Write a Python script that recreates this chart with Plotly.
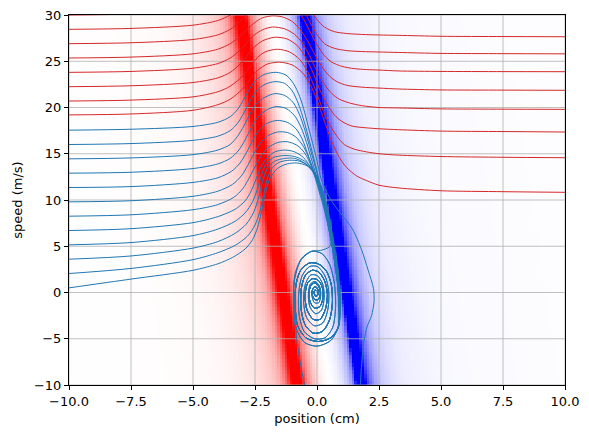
import numpy as np
import plotly.graph_objects as go

# background field: profile read across the bands along the v = 0 row
band_pos = [-14, -8, -6, -5, -4.5, -4, -3.5, -3.0, -2.6, -2.3, -2.05, -1.9, -1.75, -1.62,
            -1.55, -1.2, -1.1, -1.0, -0.85, -0.65, -0.45, -0.25, -0.05, 0.1, 0.3, 0.5,
            0.7, 0.85, 0.95, 1.02, 1.38, 1.47, 1.6, 1.8, 2.1, 2.5, 3.0, 4.0, 5.0, 7.0,
            10.0, 14.0]
band_val = [0, 0.005, 0.012, 0.02, 0.03, 0.045, 0.07, 0.11, 0.16, 0.22, 0.32, 0.45, 0.65, 0.9,
            1.0, 1.0, 0.8, 0.55, 0.38, 0.22, 0.1, 0.03, 0.0, -0.02, -0.06, -0.13,
            -0.25, -0.4, -0.65, -1.0, -1.0, -0.75, -0.55, -0.35, -0.2, -0.12, -0.07, -0.04, -0.025, -0.015,
            -0.008, -0.004]
band_tilt = 0.057  # cm of shift per m/s

x_ticks = [-10, -7.5, -5, -2.5, 0, 2.5, 5, 7.5, 10]
v_ticks = [-10, -5, 0, 5, 10, 15, 20, 25, 30]

# trajectories that pass through (red)
R0_X = [-10, -7.5, -5, -4, -3.5, -3.0, -2.7, -2.4, -2.0, -1.5, -1.0, -0.6, -0.3, 0.0, 0.3, 0.6, 0.9, 1.2, 1.6, 2.0, 2.5, 3.3, 5, 7.5, 10]
R0_V = [19.2, 19.3, 19.7, 20.3, 20.9, 22.0, 23.1, 24.0, 24.7, 24.9, 24.6, 23.8, 22.6, 20.8, 18.5, 16.3, 14.6, 13.5, 12.6, 12.1, 11.6, 11.3, 11.0, 10.9, 10.83]
R1_X = [-10, -7.5, -5, -4, -3.5, -3.0, -2.7, -2.4, -2.1, -1.6, -1.1, -0.7, -0.4, -0.1, 0.2, 0.5, 0.8, 1.1, 1.5, 2.0, 2.5, 3.3, 5, 7.5, 10]
R1_V = [20.7, 20.8, 21.15, 21.7, 22.3, 23.4, 24.4, 25.4, 26.0, 26.3, 26.0, 25.2, 24.0, 22.2, 20.0, 18.2, 16.9, 16.0, 15.5, 15.2, 15.0, 14.85, 14.7, 14.62, 14.57]
R2_X = [-10, -7.5, -5, -4, -3.5, -3.1, -2.8, -2.5, -2.2, -1.7, -1.2, -0.8, -0.5, -0.2, 0.1, 0.4, 0.7, 1.0, 1.4, 2.0, 2.5, 3.3, 5, 7.5, 10]
R2_V = [22.25, 22.35, 22.7, 23.2, 23.8, 24.7, 25.7, 26.6, 27.2, 27.6, 27.4, 26.7, 25.6, 24.0, 22.0, 20.4, 19.2, 18.5, 18.0, 17.8, 17.7, 17.6, 17.45, 17.4, 17.35]
R3_X = [-10, -7.5, -5, -4, -3.5, -3.1, -2.8, -2.5, -2.2, -1.8, -1.3, -0.9, -0.6, -0.3, 0.0, 0.3, 0.6, 0.9, 1.3, 1.8, 2.5, 3.3, 5, 7.5, 10]
R3_V = [23.8, 23.9, 24.25, 24.75, 25.35, 26.2, 27.1, 27.9, 28.4, 28.7, 28.5, 27.9, 27.0, 25.6, 23.9, 22.5, 21.5, 20.9, 20.5, 20.2, 20.0, 19.95, 19.85, 19.82, 19.8]
R4_X = [-10, -7.5, -5, -4, -3.5, -3.1, -2.8, -2.5, -2.2, -1.8, -1.4, -1.0, -0.7, -0.4, -0.1, 0.2, 0.5, 0.8, 1.2, 1.8, 2.5, 3.3, 5, 7.5, 10]
R4_V = [25.35, 25.45, 25.8, 26.3, 26.9, 27.7, 28.5, 29.2, 29.7, 29.9, 29.8, 29.3, 28.5, 27.3, 25.8, 24.4, 23.4, 22.8, 22.4, 22.2, 22.1, 22.0, 21.9, 21.88, 21.86]
R5_X = [-10, -7.5, -5, -4, -3.5, -3.1, -2.8, -2.5, -2.0, -1.5, -1.0, -0.6, -0.3, 0.0, 0.3, 0.6, 1.0, 1.5, 2.0, 2.5, 3.3, 5, 7.5, 10]
R5_V = [26.9, 27.0, 27.35, 27.85, 28.45, 29.3, 30.2, 31.0, 31.6, 31.6, 31.0, 29.8, 28.3, 26.8, 25.6, 24.9, 24.45, 24.2, 24.1, 24.05, 23.95, 23.9, 23.88, 23.87]
R6_X = [-10, -7.5, -5, -4, -3.5, -3.0, -2.5, -2.0, -1.5, -1.0, -0.6, -0.3, 0.0, 0.3, 0.7, 1.2, 1.8, 2.5, 3.3, 5, 7.5, 10]
R6_V = [28.45, 28.55, 28.9, 29.4, 30.0, 31.0, 32.3, 33.0, 33.0, 32.2, 30.8, 29.3, 27.9, 26.9, 26.4, 26.15, 26.05, 26.0, 25.95, 25.85, 25.82, 25.8]
R7_X = [-10, -7.5, -5, -4, -3.5, -3.0, -2.5, -2.0, -1.5, -1.0, -0.6, -0.3, 0.0, 0.3, 0.7, 1.2, 1.8, 2.5, 3.3, 5, 7.5, 10]
R7_V = [30.0, 30.1, 30.45, 30.95, 31.5, 32.5, 33.8, 34.5, 34.5, 33.7, 32.3, 30.8, 29.5, 28.7, 28.2, 28.0, 27.9, 27.84, 27.8, 27.7, 27.67, 27.65]

# trajectories that get trapped (blue)
B0_X = [-10, -7.5, -5, -4, -3.4, -2.9, -2.6, -2.4, -2.25, -2.1, -1.9, -1.6, -1.2, -0.8, -0.4, -0.1, 0.15, 0.35, 0.5, 0.62, 0.74, 0.85, 0.92, 0.95]
B0_V = [0.5, 1.45, 2.4, 3.1, 3.8, 4.7, 5.7, 7.0, 8.6, 10.6, 12.3, 13.4, 13.9, 14.0, 13.7, 12.9, 11.6, 9.9, 8.2, 6.3, 4.5, 2.5, 0.5, -1.5]
B1_X = [-10, -7.5, -5, -4, -3.3, -2.8, -2.5, -2.3, -2.15, -2.0, -1.8, -1.5, -1.1, -0.7, -0.35, -0.05, 0.2, 0.38, 0.52, 0.6, 0.5, 0.15, -0.25, -0.62, -0.88, -0.95, -0.92, -0.84, -0.74, -0.62, -0.48]
B1_V = [2.05, 2.6, 3.55, 4.3, 5.1, 6.1, 7.3, 8.8, 10.6, 12.3, 13.5, 14.1, 14.3, 14.2, 13.7, 12.8, 11.3, 9.5, 7.6, 6.0, 4.95, 4.55, 4.45, 3.7, 2.1, 0.0, -2.2, -4.5, -6.5, -8.4, -10.3]
B2_X = [-10, -7.5, -5, -4, -3.3, -2.85, -2.55, -2.35, -2.2, -2.0, -1.7, -1.3, -0.9, -0.5, -0.15, 0.12, 0.32, 0.47, 0.6, 0.72, 0.83, 0.9, 0.94]
B2_V = [3.6, 3.95, 4.8, 5.5, 6.4, 7.4, 8.7, 10.3, 12.0, 13.4, 14.2, 14.5, 14.5, 14.0, 13.0, 11.5, 9.7, 7.8, 6.0, 4.2, 2.3, 0.3, -1.6]
B3_X = [-10, -7.5, -5, -4, -3.3, -2.9, -2.6, -2.4, -2.25, -2.05, -1.75, -1.35, -0.9, -0.5, -0.15, 0.1, 0.3, 0.45, 0.58, 0.7, 0.8, 0.88, 0.92]
B3_V = [5.15, 5.4, 6.15, 6.85, 7.7, 8.6, 9.8, 11.2, 12.6, 13.9, 14.6, 14.8, 14.7, 14.2, 13.2, 11.8, 10.0, 8.2, 6.3, 4.4, 2.4, 0.4, -1.5]
B4_X = [-10, -7.5, -5, -4, -3.3, -2.9, -2.65, -2.45, -2.25, -2.0, -1.7, -1.3, -0.9, -0.55, -0.25, 0.0, 0.22, 0.4, 0.55, 0.68, 0.8, 0.88, 0.92]
B4_V = [6.7, 6.9, 7.55, 8.2, 9.0, 9.9, 11.0, 12.3, 13.6, 14.6, 15.2, 15.4, 15.2, 14.6, 13.5, 12.0, 10.2, 8.3, 6.4, 4.5, 2.5, 0.5, -1.5]
B5_X = [-10, -7.5, -5, -4, -3.35, -3.0, -2.75, -2.5, -2.25, -2.0, -1.6, -1.2, -0.8, -0.5, -0.25, -0.02, 0.2, 0.38, 0.53, 0.67, 0.78, 0.86, 0.9]
B5_V = [8.25, 8.4, 8.95, 9.5, 10.3, 11.2, 12.3, 13.6, 14.8, 15.6, 16.2, 16.3, 15.9, 15.1, 13.8, 12.2, 10.3, 8.4, 6.5, 4.6, 2.6, 0.6, -1.4]
B6_X = [-10, -7.5, -5, -4, -3.4, -3.05, -2.8, -2.55, -2.3, -2.0, -1.6, -1.2, -0.85, -0.55, -0.3, -0.08, 0.15, 0.35, 0.5, 0.65, 0.77, 0.85, 0.9]
B6_V = [9.8, 9.92, 10.4, 10.95, 11.7, 12.6, 13.7, 15.0, 16.1, 16.9, 17.35, 17.3, 16.8, 15.8, 14.4, 12.7, 10.7, 8.7, 6.7, 4.7, 2.7, 0.7, -1.3]
B7_X = [-10, -7.5, -5, -4, -3.45, -3.1, -2.85, -2.6, -2.35, -2.0, -1.6, -1.2, -0.85, -0.6, -0.38, -0.15, 0.08, 0.3, 0.47, 0.62, 0.75, 0.84, 0.9]
B7_V = [11.35, 11.45, 11.9, 12.4, 13.1, 14.0, 15.1, 16.4, 17.5, 18.3, 18.6, 18.4, 17.7, 16.6, 15.0, 13.1, 11.0, 8.9, 6.9, 4.8, 2.8, 0.8, -1.2]
B8_X = [-10, -7.5, -5, -4, -3.5, -3.15, -2.9, -2.65, -2.4, -2.05, -1.65, -1.25, -0.9, -0.65, -0.42, -0.2, 0.05, 0.27, 0.45, 0.6, 0.73, 0.83, 0.88]
B8_V = [12.9, 13.0, 13.4, 13.9, 14.5, 15.4, 16.5, 17.8, 18.9, 19.7, 20.1, 19.9, 19.1, 17.9, 16.2, 14.2, 11.9, 9.6, 7.3, 5.2, 3.0, 1.0, -1.1]
B9_X = [-10, -7.5, -5, -4, -3.5, -3.2, -2.95, -2.7, -2.45, -2.1, -1.7, -1.3, -0.95, -0.7, -0.47, -0.25, 0.0, 0.23, 0.42, 0.58, 0.71, 0.82, 0.88]
B9_V = [14.45, 14.55, 14.9, 15.4, 16.0, 16.9, 18.0, 19.3, 20.4, 21.1, 21.5, 21.3, 20.5, 19.2, 17.4, 15.3, 12.9, 10.3, 7.8, 5.5, 3.3, 1.2, -1.0]
B10_X = [-10, -7.5, -5, -4, -3.5, -3.2, -2.95, -2.7, -2.45, -2.1, -1.7, -1.3, -1.0, -0.75, -0.52, -0.3, -0.05, 0.2, 0.4, 0.57, 0.7, 0.81, 0.87]
B10_V = [16.0, 16.1, 16.45, 16.9, 17.5, 18.3, 19.4, 20.7, 21.8, 22.5, 22.8, 22.6, 21.8, 20.4, 18.5, 16.3, 13.7, 10.8, 8.2, 5.8, 3.5, 1.3, -0.9]
B11_X = [-10, -7.5, -5, -4, -3.5, -3.2, -2.95, -2.7, -2.45, -2.1, -1.64, -1.25, -0.95, -0.7, -0.5, -0.3, -0.05, 0.2, 0.5, 0.85, 1.15, 1.45, 1.8, 2.06, 2.28, 2.3, 2.2, 2.02, 1.9, 1.83, 1.78, 1.74]
B11_V = [17.55, 17.65, 17.95, 18.4, 19.0, 19.8, 20.9, 22.1, 23.0, 23.6, 23.8, 23.5, 22.6, 21.2, 19.5, 17.4, 14.8, 12.0, 10.3, 8.9, 7.9, 6.76, 4.6, 2.43, 0.4, -1.0, -2.5, -3.7, -5.2, -6.8, -8.5, -10.4]

# the spiral round (0, 0), two versions
SPIRAL_A_X = [0.85, 0.55, 0.05, -0.45, -0.78, -0.88, -0.85, -0.66, -0.3, 0.05, 0.38, 0.58, 0.62, 0.5, 0.22, -0.15, -0.48, -0.64, -0.64, -0.48, -0.2, 0.07, 0.3, 0.42, 0.34, 0.12, -0.15, -0.4, -0.48, -0.4, -0.18, 0.06, 0.22, 0.24, 0.12, -0.1, -0.28, -0.32, -0.21, -0.05, 0.1, 0.13, 0.03, -0.12, -0.2, -0.15, -0.05, 0.03, 0.03, -0.05, -0.12, -0.08, -0.03]
SPIRAL_A_V = [-3.8, -4.9, -5.3, -4.9, -3.6, -1.5, 0.8, 2.4, 3.2, 3.1, 2.3, 0.8, -1.2, -3.0, -4.2, -4.4, -3.5, -1.8, 0.3, 1.8, 2.4, 2.2, 1.3, -0.2, -1.8, -2.9, -2.9, -1.9, -0.5, 0.9, 1.5, 1.3, 0.5, -0.6, -1.5, -1.7, -1.0, 0.1, 0.9, 1.0, 0.5, -0.3, -0.8, -0.7, -0.1, 0.5, 0.6, 0.3, -0.2, -0.35, 0.0, 0.3, 0.2]
SPIRAL_B_X = [0.88, 0.55, 0.0, -0.5, -0.85, -0.95, -0.9, -0.65, -0.2, 0.2, 0.5, 0.7, 0.75, 0.63, 0.32, -0.1, -0.52, -0.72, -0.74, -0.6, -0.3, 0.02, 0.32, 0.47, 0.44, 0.23, -0.1, -0.42, -0.54, -0.48, -0.25, 0.02, 0.23, 0.29, 0.18, -0.05, -0.28, -0.35, -0.27, -0.08, 0.1, 0.15, 0.07, -0.1, -0.2, -0.17, -0.05, 0.05, 0.04, -0.06, -0.12, -0.08]
SPIRAL_B_V = [-3.6, -5.2, -5.8, -5.4, -3.8, -1.2, 1.5, 3.5, 4.45, 4.2, 3.1, 1.0, -1.5, -3.8, -4.9, -5.0, -4.2, -2.4, -0.2, 1.8, 2.8, 2.8, 1.8, 0.2, -1.8, -3.3, -3.6, -2.7, -1.0, 0.8, 1.9, 1.8, 0.9, -0.5, -1.9, -2.3, -1.6, -0.3, 0.9, 1.2, 0.7, -0.3, -1.1, -1.1, -0.4, 0.4, 0.65, 0.3, -0.3, -0.45, -0.05, 0.3]

BLUE_PATHS = [
    (B0_X + SPIRAL_A_X, B0_V + SPIRAL_A_V),
    (B1_X, B1_V),
    (B2_X + SPIRAL_A_X, B2_V + SPIRAL_A_V),
    (B3_X + SPIRAL_A_X, B3_V + SPIRAL_A_V),
    (B4_X + SPIRAL_B_X, B4_V + SPIRAL_B_V),
    (B5_X + SPIRAL_A_X, B5_V + SPIRAL_A_V),
    (B6_X + SPIRAL_A_X, B6_V + SPIRAL_A_V),
    (B7_X + SPIRAL_B_X, B7_V + SPIRAL_B_V),
    (B8_X + SPIRAL_A_X, B8_V + SPIRAL_A_V),
    (B9_X + SPIRAL_A_X, B9_V + SPIRAL_A_V),
    (B10_X + SPIRAL_A_X, B10_V + SPIRAL_A_V),
    (B11_X, B11_V),
]
RED_PATHS = [(R0_X, R0_V), (R1_X, R1_V), (R2_X, R2_V), (R3_X, R3_V),
             (R4_X, R4_V), (R5_X, R5_V), (R6_X, R6_V), (R7_X, R7_V)]

# heatmap cells
x_cells = np.arange(-9.95, 10.0, 0.1)
v_cells = np.arange(-9.8, 30.0, 0.4)
field = np.interp(x_cells[None, :] + band_tilt * v_cells[:, None], band_pos, band_val)

bwr = [[0.0, "rgb(0,0,255)"], [0.5, "rgb(255,255,255)"], [1.0, "rgb(255,0,0)"]]

fig = go.Figure()
fig.add_trace(go.Heatmap(x=x_cells, y=v_cells, z=field, zmin=-1, zmax=1,
                         colorscale=bwr, showscale=False, hoverinfo="skip"))

# grid on top of the image, under the lines (like matplotlib)
gx, gy = [], []
for t in x_ticks:
    gx += [t, t, None]
    gy += [-10, 30, None]
for t in v_ticks:
    gx += [-10, 10, None]
    gy += [t, t, None]
fig.add_trace(go.Scatter(x=gx, y=gy, mode="lines", line=dict(color="#b0b0b0", width=0.8),
                         hoverinfo="skip", showlegend=False))

for xs, vs in BLUE_PATHS:
    fig.add_trace(go.Scatter(x=xs, y=vs, mode="lines",
                             line=dict(color="#1f77b4", width=1, shape="spline", smoothing=0.8),
                             hoverinfo="skip", showlegend=False))
for xs, vs in RED_PATHS:
    fig.add_trace(go.Scatter(x=xs, y=vs, mode="lines",
                             line=dict(color="#d62728", width=1, shape="spline", smoothing=0.8),
                             hoverinfo="skip", showlegend=False))

axis_style = dict(showline=True, linecolor="black", linewidth=1, mirror=True,
                  ticks="outside", ticklen=4, tickwidth=1, tickcolor="black",
                  showgrid=False, zeroline=False, automargin=False,
                  ticklabeloverflow="allow",
                  tickfont=dict(family="DejaVu Sans", size=13, color="black"))

# the page body keeps its default 8 px margin, so the figure is sized to fit inside it
fig.update_layout(
    width=573, height=422,
    margin=dict(l=61, r=16, t=7, b=45),
    paper_bgcolor="white", plot_bgcolor="white",
    font=dict(family="DejaVu Sans", size=13, color="black"),
    xaxis=dict(range=[-10, 10], tickvals=x_ticks, tickformat=".1f",
               title=dict(text="position (cm)", standoff=6, font=dict(size=13)), **axis_style),
    yaxis=dict(range=[-10, 30], tickvals=v_ticks,
               title=dict(text="speed (m/s)", standoff=8, font=dict(size=13)), **axis_style),
    showlegend=False,
)

fig.write_html("out.html")
